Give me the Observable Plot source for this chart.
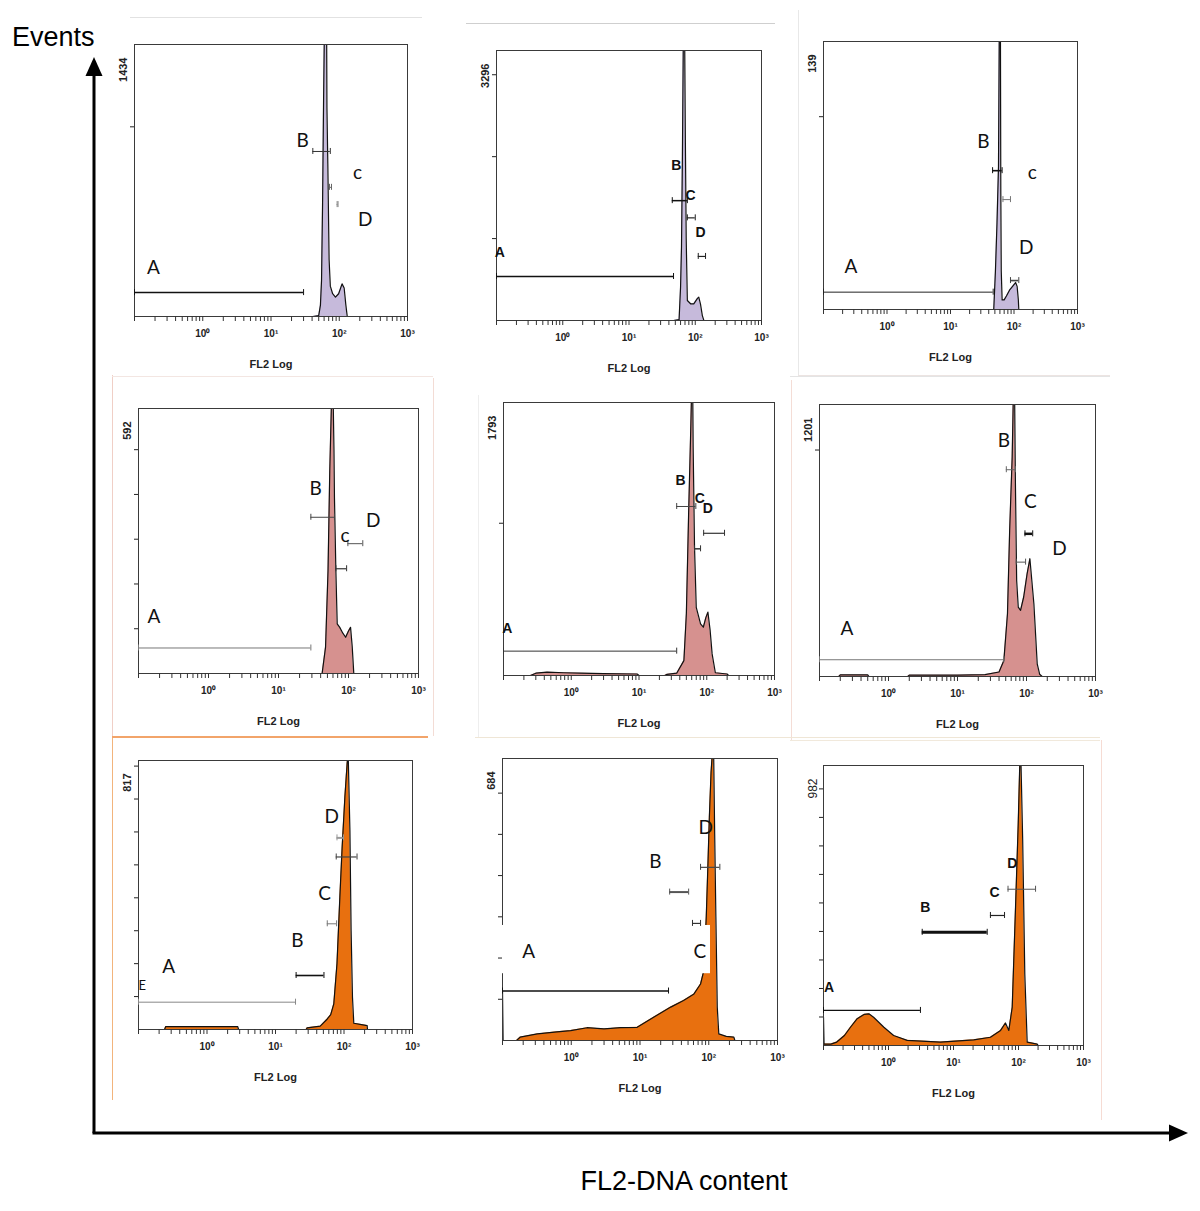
<!DOCTYPE html>
<html><head><meta charset="utf-8">
<script src="https://cdn.jsdelivr.net/npm/d3@7"></script>
<script src="https://cdn.jsdelivr.net/npm/@observablehq/plot@0.6"></script>
<style>
body{margin:0;background:#fff;}
#fig{position:relative;width:1200px;height:1211px;overflow:hidden;background:#fff;font-family:"Liberation Sans",Arial,sans-serif;}
.panel{position:absolute;}
.edge{position:absolute;}
#overlay{position:absolute;left:0;top:0;}
</style></head><body><div id="fig">
<svg id="overlay" width="1200" height="1211">
  <line x1="94" y1="1133" x2="94" y2="72" stroke="#000" stroke-width="3"/>
  <polygon points="94,57 85.5,76 102.5,76" fill="#000"/>
  <line x1="92.5" y1="1133" x2="1170" y2="1133" stroke="#000" stroke-width="3"/>
  <polygon points="1188,1133 1169,1124.5 1169,1141.5" fill="#000"/>
  <text x="12" y="46" font-size="27" font-family="Liberation Sans, Arial, sans-serif">Events</text>
  <text x="684" y="1190" text-anchor="middle" font-size="27" font-family="Liberation Sans, Arial, sans-serif">FL2-DNA content</text>
</svg>
</div>
<script>
// ---------------- DATA ----------------
// y-axis maximum (events) printed on each histogram
const yMaxLabels = [1434, 3296, 139, 592, 1793, 1201, 817, 684, 982];
// y-axis tick values
const yTicks = [
  [1000], [1000, 2000, 3000], [100], [100, 200, 300, 400, 500], [1000], [1000],
  [100, 200, 300, 400, 500, 600, 700, 800], [100, 200, 300, 400, 500, 600], [100, 200, 300, 400, 500, 600, 700, 800, 900]
];
// x-axis decade ticks and labels
const decadeTicks = [1, 10, 100, 1000];
const decadeLabels = ["10\u2070", "10\u00b9", "10\u00b2", "10\u00b3"];
const xAxisTitle = "FL2 Log";

// histograms: [FL2 value, events]
const hist1 = [[41,0],[50,5],[53,60],[55,190],[57,600],[59,1156],[61,1600],[63,1800],[65,1700],[66,1100],[68,805],[71,300],[74,160],[80,120],[88,102],[98,120],[110,172],[118,150],[125,60],[131,0]];
const hist2 = [[47,0],[57,10],[60,407],[62,895],[64,2000],[66,3400],[69,3600],[71,2157],[73,1000],[76,244],[85,204],[95,204],[108,270],[113,285],[120,200],[128,60],[135,0]];
const hist3 = [[48,0],[51,20],[54,45],[57,74],[59,160],[61,160],[62,60],[63,20],[65,5],[70,5],[76,7],[85,10],[95,12],[106,14],[112,12],[117,5],[119,0]];
const hist4 = [[42,0],[47,59],[51,230],[54,453],[57,600],[60,640],[62,500],[63,394],[66,230],[69,111],[75,103],[83,90],[91,81],[100,95],[107,103],[113,60],[119,0]];
const hist5 = [[0.25,0],[0.3,15],[0.44,22],[0.78,18],[1.37,15],[3,12],[9.4,10],[10,0],[24,0],[26,8],[36,15],[46,98],[50,405],[54,1062],[58,1609],[60,1900],[62,1900],[63,1499],[66,843],[70,448],[81,339],[89,317],[97,380],[104,416],[112,300],[120,142],[134,18],[200,10],[210,0]];
const hist6 = [[0.19,0],[0.2,7],[0.5,7],[0.52,0],[1.9,0],[2,6],[10,6],[25,8],[40,20],[47,71],[53,277],[57,645],[62,968],[65,1300],[67,1300],[69,865],[72,424],[76,306],[82,292],[91,351],[102,453],[112,520],[128,320],[143,56],[155,10],[169,0]];
const hist7 = [[0.24,0],[0.25,9],[1,9],[2.8,9],[2.9,0],[28,0],[29,5],[45,10],[57,32],[64,45],[71,78],[79,200],[87,402],[94,554],[103,706],[111,807],[115,840],[122,604],[127,301],[133,98],[139,19],[180,15],[218,12],[220,0]];
const hist8 = [[0.1,121],[0.102,0],[0.16,0],[0.18,8],[0.32,16],[0.62,21],[0.98,24],[1.7,31],[3,28],[5.2,31],[9.1,32],[16,57],[28,81],[43,97],[61,113],[76,137],[85,170],[92,300],[97,420],[102,540],[108,650],[113,700],[118,690],[122,500],[127,300],[133,81],[140,16],[180,10],[232,8],[240,0]];
const hist9 = [[0.1,99],[0.102,5],[0.13,5],[0.16,12],[0.21,35],[0.26,64],[0.33,94],[0.42,109],[0.5,111],[0.59,99],[0.85,64],[1.2,35],[1.94,18],[6.3,12],[20.5,20],[37,29],[53,53],[63,79],[71,53],[80,134],[90,485],[99,777],[105,1000],[109,1000],[116,719],[125,251],[136,12],[194,5],[200,0]];

// gates: [name, from FL2, to FL2, events level]
const gates1 = [["A",0.1,30,126],["B",41,74,870],["C",72,77,681],["D",93,96,590]];
const gates2 = [["A",0.1,47,537],["B",45,76,1463],["C",76,100,1253],["D",111,143,782]];
const gates3 = [["A",0.1,47,9],["B",46,65,72],["C",67,88,57],["D",88,119,15]];
const gates4 = [["A",0.1,29,57],["B",29,63,349],["C",66,94,234],["D",98,160,290]];
const gates5 = [["A",0.1,36,160],["B",36,69,1110],["C",66,81,832],["D",90,183,934]];
const gates6 = [["A",0.1,47,74],["B",51,69,913],["C",71,97,505],["D",95,123,630]];
const gates7 = [["A",0.1,19.6,83],["B",20,51,164],["C",57,78,321],["D",77,155,524],["D2",79,98,582]];
const gates8 = [["A",0.1,26,120],["B",27,51,360],["C",58,76,284],["D",76,145,420]];
const gates9 = [["A",0.1,3.1,123],["B",3.3,33,397],["C",37,61,456],["D",69,183,548]];

// gate letters: [text, FL2, events]
const labels1 = [["A",0.19,258],["B",29,928],["c",186,759],["D",240,511]];
const labels2 = [["A",0.112,834],["B",52,1892],["C",85,1526],["D",120,1078]];
const labels3 = [["A",0.27,22],["B",33,87],["c",194,71],["D",156,32]];
const labels4 = [["A",0.166,126],["B",34,413],["c",89,308],["D",225,342]];
const labels5 = [["A",0.114,307],["B",41,1281],["C",79,1160],["D",104,1095]];
const labels6 = [["A",0.25,211],["B",47,1042],["C",114,770],["D",300,564]];
const labels7 = [["E",0.113,134],["A",0.277,189],["B",20.8,270],["C",52,412],["D",66,647]];
const labels8 = [["A",0.24,214],["B",16.8,432],["C",74,214],["D",90,516]];
const labels9 = [["A",0.122,202],["B",3.7,485],["C",43,538],["D",80,637]];

// white paste-over box in the 8th histogram: [FL2 from, FL2 to, events from, events to]
const cover8 = [[0.093,106,162,279]];

// ---------------- LAYOUT / STYLE ----------------
const histograms = [hist1,hist2,hist3,hist4,hist5,hist6,hist7,hist8,hist9];
const gateSets = [gates1,gates2,gates3,gates4,gates5,gates6,gates7,gates8,gates9];
const labelSets = [labels1,labels2,labels3,labels4,labels5,labels6,labels7,labels8,labels9];
const covers = [[],[],[],[],[],[],[],cover8,[]];
// frame [left, top, right, bottom] in page pixels
const frames = [[134,44,407,316],[496,50,761,320],[823,41,1077,309],
                [138,408,418,673],[503,402,774,675],[819,404,1095,676],
                [138,760,412,1029],[502,758,777,1040],[823,765,1083,1045]];
const lav = "#c6badb", rose = "#d6918f", orange = "#e8700f";
const fills = [lav,lav,lav,rose,rose,rose,orange,orange,orange];
const boldLabels = [false,true,false,false,true,false,false,false,true];
const gateWidths = [[1.5,1,1,1],[1.5,1.5,1.2,1.2],[1,1.6,1,1.6],[1,1,1.2,1],[1,1,1.5,1.2],[1,1,1,2.5],[1,1.6,1,1.2,2],[1.6,2,1.2,1.2],[1.2,3,1.2,1]];
const gateColors = [["#111","#333","#666","#888"],["#111","#111","#222","#222"],["#222","#111","#777","#444"],["#777","#444","#333","#555"],["#333","#444","#333","#333"],["#777","#666","#555","#111"],["#888","#111","#777","#444","#999"],["#111","#555","#333","#444"],["#111","#111","#222","#555"]];

const NARROW = "'Liberation Sans Narrow','Liberation Sans',Arial,sans-serif";
const SOFT = "Lato,'Open Sans',sans-serif";
const mL = 34, mR = 14, mT = 20, mB = 72;

const minorTicks = [];
for (let k = -1; k <= 2; k++) for (let m = 1; m <= 9; m++) minorTicks.push(m * Math.pow(10, k));
minorTicks.push(1000);

const fig = document.getElementById("fig");

// faint borders of the pasted sub-images
const edges = [
  [130,17,292,1,"#e2e2e2"],[466,23,309,1,"#cfcfcf"],
  [798,10,1,365,"#e8e8e8"],[798,375,312,1,"#ece4e2"],
  [112,375,1,362,"#f0cfc6"],[112,376,321,1,"#f3e6e2"],[433,378,1,358,"#f3dcd5"],[112,736,316,2,"#f2a46a"],
  [478,395,1,343,"#eeeeee"],[791,380,1,360,"#f4ddd6"],
  [790,376,320,1,"#e4e4e4"],[790,740,310,1,"#f1e9dc"],
  [112,738,1,362,"#f2b47c"],[475,737,625,1,"#efe6d6"],[1101,740,1,380,"#f6dcd4"]
];
for (const [x,y,w,h,c] of edges) {
  const d = document.createElement("div");
  d.className = "edge";
  Object.assign(d.style, {left:x+"px", top:y+"px", width:w+"px", height:h+"px", background:c});
  fig.appendChild(d);
}

histograms.forEach((hist, i) => {
  const [L,T,R,B] = frames[i];
  const W = R - L, H = B - T;
  const yMax = yMaxLabels[i];
  const data = hist.map(([x,y]) => ({x, y}));
  const g = gateSets[i].map(([name,x1,x2,y], j) => ({name, x1, x2, y, w: gateWidths[i][j] ?? 1, c: gateColors[i][j] ?? "#222"}));
  const lbl = labelSets[i].map(([text,x,y]) => ({text, x, y}));
  const cov = covers[i].map(([x1,x2,y1,y2]) => ({x1,x2,y1,y2}));
  const bold = boldLabels[i];
  const plot = Plot.plot({
    width: W + mL + mR, height: H + mT + mB,
    marginLeft: mL, marginRight: mR, marginTop: mT, marginBottom: mB,
    x: {type: "log", domain: [0.1, 1000], axis: null, label: null},
    y: {domain: [0, yMax], axis: null, label: null},
    style: {background: "transparent", overflow: "visible"},
    marks: [
      Plot.areaY(data, {x: "x", y: "y", fill: fills[i], clip: true}),
      Plot.lineY(data, {x: "x", y: "y", stroke: "#111", strokeWidth: 1.2, clip: true}),
      Plot.frame({stroke: "#3a3a3a", strokeWidth: 1}),
      Plot.rect(cov, {x1: "x1", x2: "x2", y1: "y1", y2: "y2", fill: "white"}),
      Plot.axisX(minorTicks, {tickSize: 5, tickFormat: () => "", stroke: "#333", label: null}),
      Plot.axisX(decadeTicks, {tickSize: 0, tickPadding: 13, tickFormat: d => decadeLabels[decadeTicks.indexOf(d)], fontSize: 10, fontWeight: "bold", fontFamily: NARROW, fill: "#222", label: null}),
      Plot.axisY(yTicks[i], {tickSize: 4, tickFormat: () => "", stroke: "#222", label: null}),
      Plot.text([yMax], {frameAnchor: "top-left", rotate: -90, textAnchor: "end", dx: -15, dy: 13, text: d => String(d), fontSize: i === 8 ? 12 : 11, fontWeight: i === 8 ? "normal" : "bold", fontFamily: "'Liberation Sans',Arial,sans-serif", fill: "#222"}),
      Plot.text([xAxisTitle], {frameAnchor: "bottom", dy: 51, text: d => d, fontSize: 11, fontWeight: "bold", fontFamily: NARROW, fill: "#222"}),
      Plot.ruleY(g, {x1: "x1", x2: "x2", y: "y", stroke: "c", strokeWidth: "w"}),
      Plot.ruleX(g, {x: "x1", y1: "y", y2: "y", insetTop: -3, insetBottom: -3, stroke: "c", strokeWidth: 1}),
      Plot.ruleX(g, {x: "x2", y1: "y", y2: "y", insetTop: -3, insetBottom: -3, stroke: "c", strokeWidth: 1}),
      Plot.text(lbl, {x: "x", y: "y", text: "text",
        fontSize: d => d.text === "E" ? 13 : (bold ? 14 : 19),
        fontWeight: bold ? "bold" : "normal",
        fontFamily: bold ? NARROW : SOFT, fill: "#111"})
    ]
  });
  plot.classList.add("panel");
  plot.style.left = (L - mL) + "px";
  plot.style.top = (T - mT) + "px";
  fig.appendChild(plot);
});
</script>
</body></html>
